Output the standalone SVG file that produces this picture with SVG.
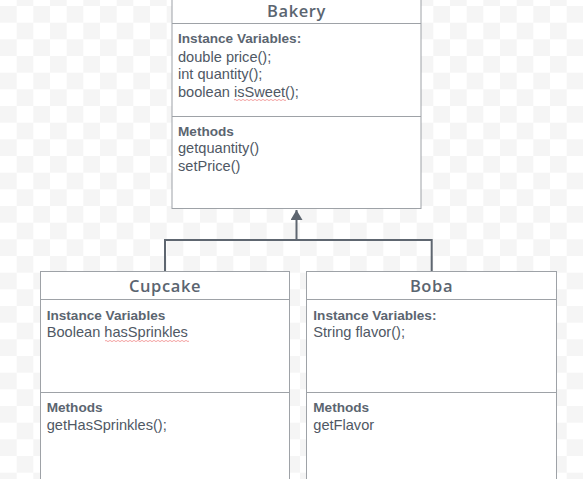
<svg xmlns="http://www.w3.org/2000/svg" width="583" height="479" viewBox="0 0 583 479">
<defs>
<pattern id="chk" x="0" y="6" width="33.333" height="33.333" patternUnits="userSpaceOnUse">
<rect x="0" y="0" width="33.333" height="33.333" fill="#ffffff"/>
<rect x="0" y="0" width="16.667" height="16.667" fill="#f5f5f5"/>
<rect x="16.667" y="16.667" width="16.667" height="16.667" fill="#f5f5f5"/>
</pattern>
<marker id="arr" viewBox="0 0 10 12" refX="10" refY="6" markerWidth="10" markerHeight="12" markerUnits="userSpaceOnUse" orient="auto">
<path d="M0,0 L10,6 L0,12 Z" fill="#5e6670"/>
</marker>
<style>
.box{fill:#ffffff;stroke:#9ea2a7;stroke-width:1}
.sep{stroke:#9ea2a7;stroke-width:1;fill:none}
.title{font-family:"Open Sans","DejaVu Sans",sans-serif;font-weight:600;font-size:16.5px;fill:#5b6570;text-anchor:middle;letter-spacing:0.6px}
.hd{font-family:"Liberation Sans",Arial,sans-serif;font-weight:700;font-size:13.6px;fill:#5b6570}
.tx{font-family:"Liberation Sans",Arial,sans-serif;font-size:14.6px;fill:#4f5864}
.conn{fill:none;stroke:#5e6670;stroke-width:2}
.sq{fill:none;stroke:#f08a8a;stroke-width:0.8}
</style>
</defs>
<rect x="0" y="0" width="583" height="479" fill="url(#chk)"/>

<g id="connectors">
<path class="conn" d="M165,271.5 V240 H431.7 V271.5"/>
<path class="conn" d="M296.5,240 V210" marker-end="url(#arr)"/>
</g>

<g id="bakery">
<rect class="box" x="172" y="-2" width="249" height="210.5"/>
<line class="sep" x1="172" y1="23.5" x2="421" y2="23.5"/>
<line class="sep" x1="172" y1="116.5" x2="421" y2="116.5"/>
<text class="title" x="296.5" y="16.5">Bakery</text>
<text class="hd" x="178" y="43">Instance Variables:</text>
<text class="tx" x="178" y="61.5">double price();</text>
<text class="tx" x="178" y="79">int quantity();</text>
<text class="tx" x="178" y="96.5">boolean isSweet();</text>
<path class="sq" d="M234,100 q1,-1.2 2,0 t2,0 t2,0 t2,0 t2,0 t2,0 t2,0 t2,0 t2,0 t2,0 t2,0 t2,0 t2,0 t2,0 t2,0 t2,0 t2,0 t2,0 t2,0 t2,0 t2,0 t2,0 t2,0 t2,0 t2,0 t2,0"/>
<text class="hd" x="178" y="135.5">Methods</text>
<text class="tx" x="178" y="153">getquantity()</text>
<text class="tx" x="178" y="170.5">setPrice()</text>
</g>

<g id="cupcake">
<rect class="box" x="40.5" y="271.5" width="249" height="215"/>
<line class="sep" x1="40.5" y1="299.5" x2="289.5" y2="299.5"/>
<line class="sep" x1="40.5" y1="392.5" x2="289.5" y2="392.5"/>
<text class="title" x="165" y="292">Cupcake</text>
<text class="hd" x="46.7" y="319.5">Instance Variables</text>
<text class="tx" x="46.7" y="337">Boolean hasSprinkles</text>
<path class="sq" d="M105,341 q1,-1.2 2,0 t2,0 t2,0 t2,0 t2,0 t2,0 t2,0 t2,0 t2,0 t2,0 t2,0 t2,0 t2,0 t2,0 t2,0 t2,0 t2,0 t2,0 t2,0 t2,0 t2,0 t2,0 t2,0 t2,0 t2,0 t2,0 t2,0 t2,0 t2,0 t2,0 t2,0 t2,0 t2,0 t2,0 t2,0 t2,0 t2,0 t2,0 t2,0 t2,0 t2,0 t2,0"/>
<text class="hd" x="46.7" y="412">Methods</text>
<text class="tx" x="46.7" y="429.5">getHasSprinkles();</text>
</g>

<g id="boba">
<rect class="box" x="306.5" y="271.5" width="250" height="215"/>
<line class="sep" x1="306.5" y1="299.5" x2="556.5" y2="299.5"/>
<line class="sep" x1="306.5" y1="392.5" x2="556.5" y2="392.5"/>
<text class="title" x="431.5" y="292">Boba</text>
<text class="hd" x="313.3" y="319.5">Instance Variables:</text>
<text class="tx" x="313.3" y="337">String flavor();</text>
<text class="hd" x="313.3" y="412">Methods</text>
<text class="tx" x="313.3" y="429.5">getFlavor</text>
</g>
</svg>
